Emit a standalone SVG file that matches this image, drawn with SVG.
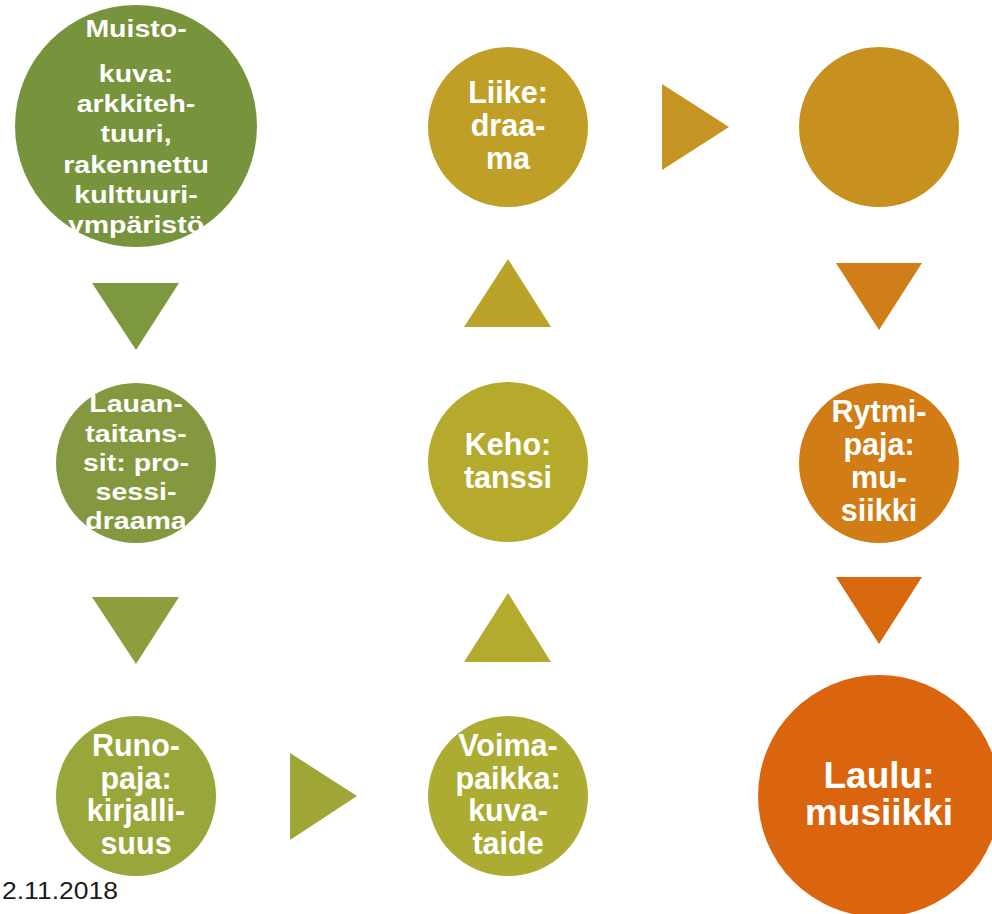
<svg xmlns="http://www.w3.org/2000/svg" width="992" height="914" viewBox="0 0 992 914">
<style>
  .t { font-family: "Liberation Sans", Arial, sans-serif; font-weight: bold; fill: #FFFFFF; text-anchor: middle; }
  .s29 { font-size: 28.5px; }
  .s31 { font-size: 30.5px; }
  .s37 { font-size: 37px; }
  .date { font-family: "Liberation Sans", Arial, sans-serif; font-size: 23px; fill: #1A1A1A; }
</style>
<rect x="0" y="0" width="992" height="914" fill="#FFFFFF"/>

<g id="connectors">
  <polygon points="92,283 179,283 136,350" fill="#7D983E"/>
  <polygon points="92,597 179,597 136,664" fill="#8C9F3C"/>
  <polygon points="290,753 290,840 357,796" fill="#9FA637"/>
  <polygon points="464,662 551,662 508,593" fill="#B4AA2E"/>
  <polygon points="464,327 551,327 508,259" fill="#BAA328"/>
  <polygon points="662,84 662,170 729,127" fill="#C69422"/>
  <polygon points="836,263 922,263 879,330" fill="#D07E17"/>
  <polygon points="836,577 922,577 879,644" fill="#D8680E"/>
</g>

<g id="muistokuva">
  <circle cx="136" cy="126" r="121" fill="#77933C"/>
  <text class="t s29" transform="translate(136 37) scale(1 0.84)">Muisto-</text>
  <text class="t s29" transform="translate(136 81.5) scale(1 0.84)">kuva:</text>
  <text class="t s29" transform="translate(136 111.5) scale(1 0.84)">arkkiteh-</text>
  <text class="t s29" transform="translate(136 142) scale(1 0.84)">tuuri,</text>
  <text class="t s29" transform="translate(136 172.5) scale(1 0.84)">rakennettu</text>
  <text class="t s29" transform="translate(136 203) scale(1 0.84)">kulttuuri-</text>
  <text class="t s29" transform="translate(136 233) scale(1 0.84)">ympäristö</text>
</g>

<g id="lauantaitanssit">
  <circle cx="136" cy="463" r="80" fill="#84993F"/>
  <text class="t s29" transform="translate(136 412) scale(1 0.85)">Lauan-</text>
  <text class="t s29" transform="translate(136 441.5) scale(1 0.85)">taitans-</text>
  <text class="t s29" transform="translate(136 471) scale(1 0.85)">sit: pro-</text>
  <text class="t s29" transform="translate(136 500) scale(1 0.85)">sessi-</text>
  <text class="t s29" transform="translate(136 529) scale(1 0.85)">draama</text>
</g>

<g id="runopaja">
  <circle cx="136" cy="796" r="80" fill="#98A63A"/>
  <text class="t s31" x="136" y="756">Runo-</text>
  <text class="t s31" x="136" y="788.5">paja:</text>
  <text class="t s31" x="136" y="821">kirjalli-</text>
  <text class="t s31" x="136" y="853.5">suus</text>
</g>

<g id="voimapaikka">
  <circle cx="508" cy="796" r="80" fill="#ACAC33"/>
  <text class="t s31" x="508" y="756">Voima-</text>
  <text class="t s31" x="508" y="788.5">paikka:</text>
  <text class="t s31" x="508" y="821">kuva-</text>
  <text class="t s31" x="508" y="853.5">taide</text>
</g>

<g id="keho">
  <circle cx="508" cy="462" r="80" fill="#B6AA2D"/>
  <text class="t s31" x="508" y="455">Keho:</text>
  <text class="t s31" x="508" y="488">tanssi</text>
</g>

<g id="liike">
  <circle cx="508" cy="127" r="80" fill="#C09F27"/>
  <text class="t s31" x="508" y="103">Liike:</text>
  <text class="t s31" x="508" y="136">draa-</text>
  <text class="t s31" x="508" y="169">ma</text>
</g>

<g id="tyhja">
  <circle cx="879" cy="127" r="80" fill="#C8901E"/>
</g>

<g id="rytmipaja">
  <circle cx="879" cy="463" r="80" fill="#D27C16"/>
  <text class="t s31" x="879" y="422">Rytmi-</text>
  <text class="t s31" x="879" y="455">paja:</text>
  <text class="t s31" x="879" y="488">mu-</text>
  <text class="t s31" x="879" y="521">siikki</text>
</g>

<g id="laulu">
  <circle cx="879" cy="796" r="121" fill="#DA650E"/>
  <text class="t s37" x="879" y="788">Laulu:</text>
  <text class="t s37" x="879" y="825">musiikki</text>
</g>

<text class="date" x="2" y="899" textLength="116" lengthAdjust="spacingAndGlyphs">2.11.2018</text>
</svg>
